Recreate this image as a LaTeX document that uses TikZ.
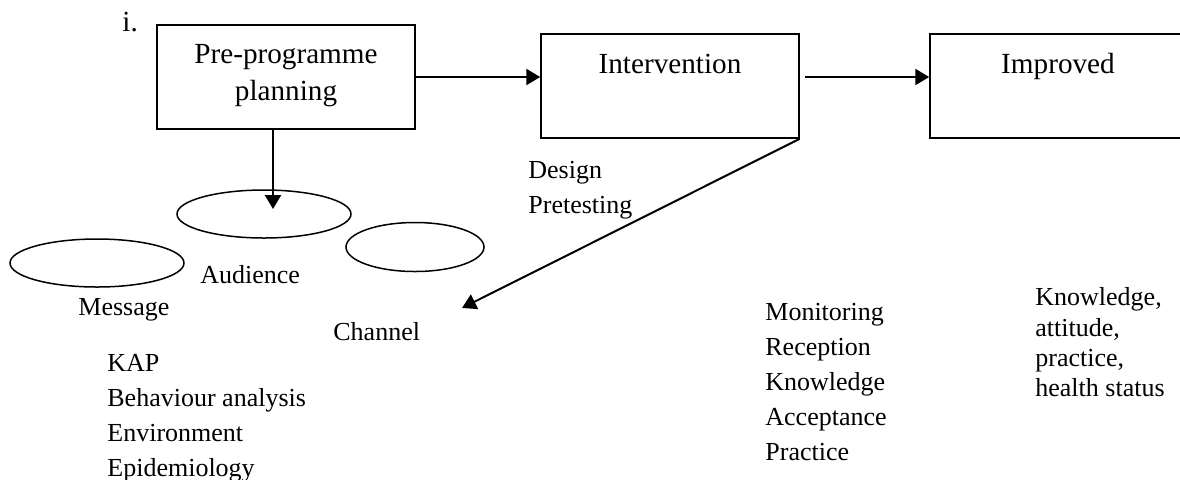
\documentclass[tikz,border=0pt]{standalone}
\usepackage{fontspec}
\setmainfont{Liberation Serif}
\usetikzlibrary{shapes.geometric,arrows.meta,calc}
\begin{document}
\begin{tikzpicture}[x=0.5pt,y=-0.5pt,
  box/.style={draw,line width=0.75pt,minimum width=129pt,minimum height=52pt,inner sep=0pt},
  oval/.style={draw,ellipse,line width=0.75pt,inner sep=0pt},
  bigtxt/.style={font=\fontsize{14.6}{17}\selectfont,inner sep=0pt,anchor=base},
  lbl/.style={font=\fontsize{13}{16}\selectfont,inner sep=0pt,anchor=base west},
  arr/.style={line width=1.2pt,-{Triangle[length=7pt,width=8pt]}},
  diag/.style={line width=1pt,-{Triangle[length=7pt,width=8pt]}}
]
\clip (0,0) rectangle (1180,479);
\fill[white] (0,0) rectangle (1180,479);

% boxes
\node[box] (b1) at (286,77) {};
\node[box] (b2) at (670,86) {};
\node[box,minimum width=131pt] (b3) at (1061,86) {};

\node[bigtxt] (b1t1) at (286,63) {Pre-programme};
\node[bigtxt] (b1t2) at (286,100) {planning};
\node[bigtxt] (b2t) at (670,73) {Intervention};
\node[bigtxt] (b3t) at (1058,73) {Improved};
\node[bigtxt,anchor=base west] (num) at (122,31) {i.};

% ellipses
\node[oval,minimum width=87pt,minimum height=24pt] (aud) at (264,214) {};
\node[oval,minimum width=87pt,minimum height=24pt] (msg) at (97,263) {};
\node[oval,minimum width=69pt,minimum height=24.5pt] (chn) at (415,247) {};

\coordinate (downtip) at (273,209);
\coordinate (chtip) at (462,308);

% arrows
\draw[arr] (b1.east) -- (b1.east -| b2.west);
\draw[arr] ($(b1.east -| b2.east)+(5,0)$) -- (b1.east -| b3.west);
\draw[arr] (b1.south -| downtip) -- (downtip);
\draw[diag] (b2.south east) -- (chtip);

% labels
\node[lbl] (des) at (528,178) {Design};
\node[lbl] (pre) at (528,213) {Pretesting};
\node[lbl] (audl) at (200,283) {Audience};
\node[lbl] (msgl) at (78,315) {Message};
\node[lbl] (chl) at (333,340) {Channel};

\node[lbl] (k1) at (107,371) {KAP};
\node[lbl] (k2) at (107,406) {Behaviour analysis};
\node[lbl] (k3) at (107,441) {Environment};
\node[lbl] (k4) at (107,476) {Epidemiology};

\node[lbl] (m1) at (765,320) {Monitoring};
\node[lbl] (m2) at (765,355) {Reception};
\node[lbl] (m3) at (765,390) {Knowledge};
\node[lbl] (m4) at (765,425) {Acceptance};
\node[lbl] (m5) at (765,460) {Practice};

\node[lbl] (r1) at (1035,305) {Knowledge,};
\node[lbl] (r2) at (1035,336) {attitude,};
\node[lbl] (r3) at (1035,366) {practice,};
\node[lbl] (r4) at (1035,396) {health status};
\end{tikzpicture}
\end{document}
